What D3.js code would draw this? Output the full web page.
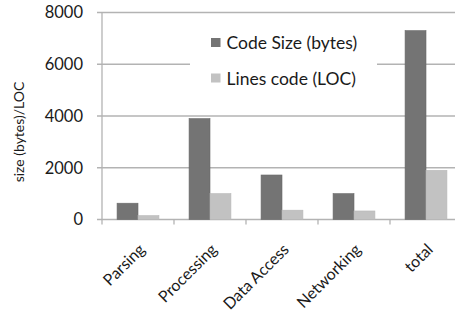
<!DOCTYPE html>
<html>
<head>
<meta charset="utf-8">
<script src="https://cdn.jsdelivr.net/npm/d3@7"></script>
<style>
  body { margin: 0; background: #fff; }
  text { font-family: Lato, "Open Sans", sans-serif; fill: #1a1a1a; }
</style>
</head>
<body>
<div id="chart"></div>
<script>
// modules and their sizes
const categories = ["Parsing", "Processing", "Data Access", "Networking", "total"];
const codeSize = [630, 3900, 1720, 1000, 7300];
const linesCode = [150, 1000, 360, 330, 1900];
const seriesNames = ["Code Size (bytes)", "Lines code (LOC)"];
const yTicks = [0, 2000, 4000, 6000, 8000];

const width = 455;
const height = 311;
const margin = { top: 12.5, right: -7, bottom: 91.5, left: 102 };

const svg = d3.select("#chart")
    .append("svg")
    .attr("width", width)
    .attr("height", height);

const x = d3.scaleBand()
    .domain(categories)
    .range([margin.left, width - margin.right])
    .paddingInner(0)
    .paddingOuter(0);

const y = d3.scaleLinear()
    .domain([0, 8000])
    .range([height - margin.bottom, margin.top]);

const colors = ["#747474", "#c2c2c2"];

// gridlines
svg.selectAll("line.grid")
    .data(yTicks)
    .enter()
    .append("line")
    .attr("class", "grid")
    .attr("x1", margin.left - 5)
    .attr("x2", width)
    .attr("y1", d => y(d))
    .attr("y2", d => y(d))
    .attr("stroke", "#b3b3b3")
    .attr("stroke-width", 1.3);

// y tick labels
svg.selectAll("text.ytick")
    .data(yTicks)
    .enter()
    .append("text")
    .attr("class", "ytick")
    .attr("x", 83)
    .attr("y", d => y(d))
    .attr("dy", "0.36em")
    .attr("text-anchor", "end")
    .attr("font-size", "16.5px")
    .text(d => d);

// x axis line + ticks
svg.append("line")
    .attr("x1", margin.left)
    .attr("x2", margin.left)
    .attr("y1", y(8000))
    .attr("y2", y(0) + 5)
    .attr("stroke", "#b3b3b3")
    .attr("stroke-width", 1.3);

svg.selectAll("line.xtick")
    .data(categories.slice(1))
    .enter()
    .append("line")
    .attr("class", "xtick")
    .attr("x1", d => x(d))
    .attr("x2", d => x(d))
    .attr("y1", y(0))
    .attr("y2", y(0) + 5)
    .attr("stroke", "#b3b3b3")
    .attr("stroke-width", 1.3);

// legend box sits over the gridlines
const legend = svg.append("g").attr("transform", "translate(190,28)");
legend.append("rect")
    .attr("width", 187)
    .attr("height", 66)
    .attr("fill", "#fff");

seriesNames.forEach((name, i) => {
    legend.append("rect")
        .attr("x", 21)
        .attr("y", 10 + i * 35.5)
        .attr("width", 9.5)
        .attr("height", 9)
        .attr("fill", colors[i]);
    legend.append("text")
        .attr("x", 36.5)
        .attr("y", 15 + i * 36)
        .attr("dy", "0.36em")
        .attr("font-size", "17.5px")
        .text(name);
});

// bars
const inner = d3.scaleBand()
    .domain([0, 1])
    .range([0, x.bandwidth()])
    .paddingOuter(0.72)
    .paddingInner(0);

const series = [codeSize, linesCode];
series.forEach((vals, s) => {
    svg.selectAll("rect.bar" + s)
        .data(vals)
        .enter()
        .append("rect")
        .attr("class", "bar" + s)
        .attr("x", (d, i) => x(categories[i]) + inner(s))
        .attr("y", d => y(d))
        .attr("width", inner.bandwidth())
        .attr("height", d => y(0) - y(d))
        .attr("fill", colors[s])
        .attr("stroke", s === 0 ? "#6a6a6a" : "#b8b8b8")
        .attr("stroke-width", 0.6);
});

// category labels, slanted
svg.selectAll("text.xlabel")
    .data(categories)
    .enter()
    .append("text")
    .attr("class", "xlabel")
    .attr("text-anchor", "end")
    .attr("font-size", "16px")
    .attr("transform", d => `translate(${x(d) + x.bandwidth() / 2 + 8},${y(0) + 31}) rotate(-45)`)
    .text(d => d);

// y axis title
svg.append("text")
    .attr("text-anchor", "middle")
    .attr("font-size", "14px")
    .attr("transform", `translate(24,132) rotate(-90)`)
    .text("size (bytes)/LOC");
</script>
</body>
</html>
